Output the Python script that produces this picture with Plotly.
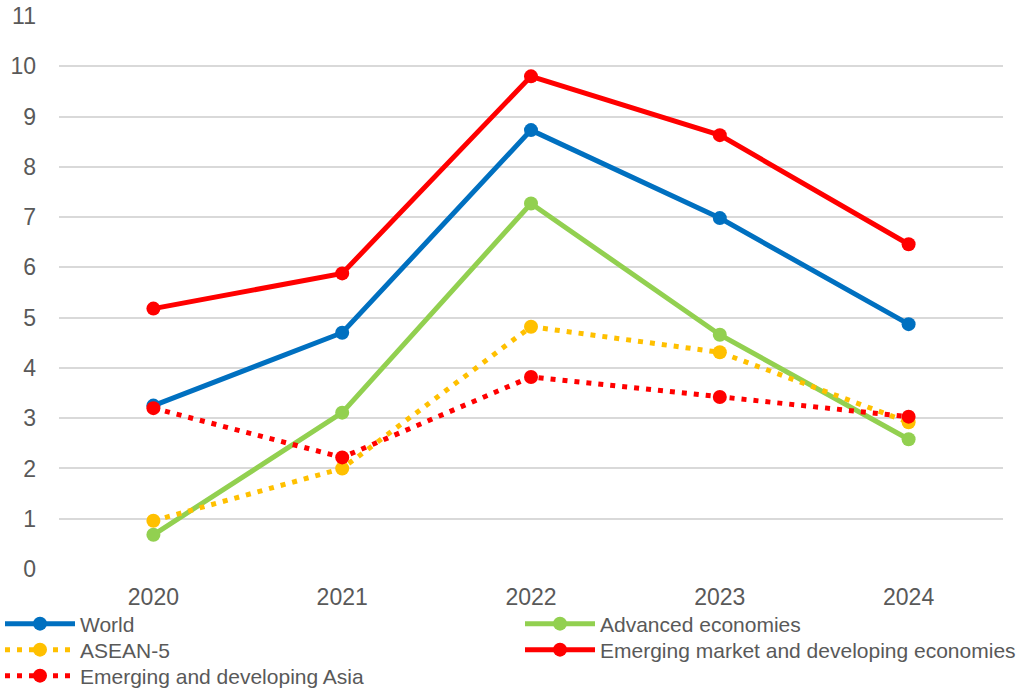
import plotly.graph_objects as go

years = ["2020", "2021", "2022", "2023", "2024"]
world = [3.25, 4.70, 8.73, 6.98, 4.87]
advanced = [0.68, 3.11, 7.27, 4.66, 2.58]
asean5 = [0.96, 2.00, 4.82, 4.31, 2.92]
emde = [5.18, 5.88, 9.80, 8.63, 6.46]
eda = [3.20, 2.22, 3.82, 3.42, 3.03]

series = [
    ("World", world, "#0070C0", "solid"),
    ("Advanced economies", advanced, "#92D050", "solid"),
    ("ASEAN-5", asean5, "#FFC000", "5px,7px"),
    ("Emerging market and developing economies", emde, "#FF0000", "solid"),
    ("Emerging and developing Asia", eda, "#FF0000", "5px,7px"),
]
# legend slot per series: (left px, row centre px)
slots = [(0, 624), (520, 624), (0, 650), (520, 650), (0, 676)]

W, H = 1023, 688
fig = go.Figure()
layout_legends = {}
for i, ((name, vals, color, dash), (lx, ly)) in enumerate(zip(series, slots)):
    key = "legend" if i == 0 else f"legend{i+1}"
    fig.add_trace(go.Scatter(
        x=years, y=vals, name=name, mode="lines+markers",
        line=dict(color=color, width=5, dash=dash),
        marker=dict(color=color, size=14, symbol="circle"),
        legend=key,
    ))
    layout_legends[key] = dict(
        xref="container", yref="container", x=lx / W, y=1 - ly / H,
        xanchor="left", yanchor="middle", itemwidth=70,
        font=dict(size=21, color="#595959"), bgcolor="rgba(0,0,0,0)",
    )

fig.update_layout(
    width=W, height=H,
    margin=dict(l=59, r=20, t=16, b=119, autoexpand=False),
    plot_bgcolor="white", paper_bgcolor="white",
    font=dict(family="Liberation Sans, Arial, sans-serif", color="#595959"),
    xaxis=dict(type="category", range=[-0.5, 4.5], showgrid=False, showline=False,
               zeroline=False, ticks="", ticklabelstandoff=12,
               tickfont=dict(size=23, color="#595959")),
    yaxis=dict(range=[0, 11], dtick=1, tick0=0, showgrid=True, gridcolor="#D9D9D9",
               gridwidth=2, zeroline=False, showline=False, ticks="", ticklabelstandoff=22,
               tickfont=dict(size=23, color="#595959")),
    showlegend=True,
    **layout_legends,
)

fig.write_html("out.html")
